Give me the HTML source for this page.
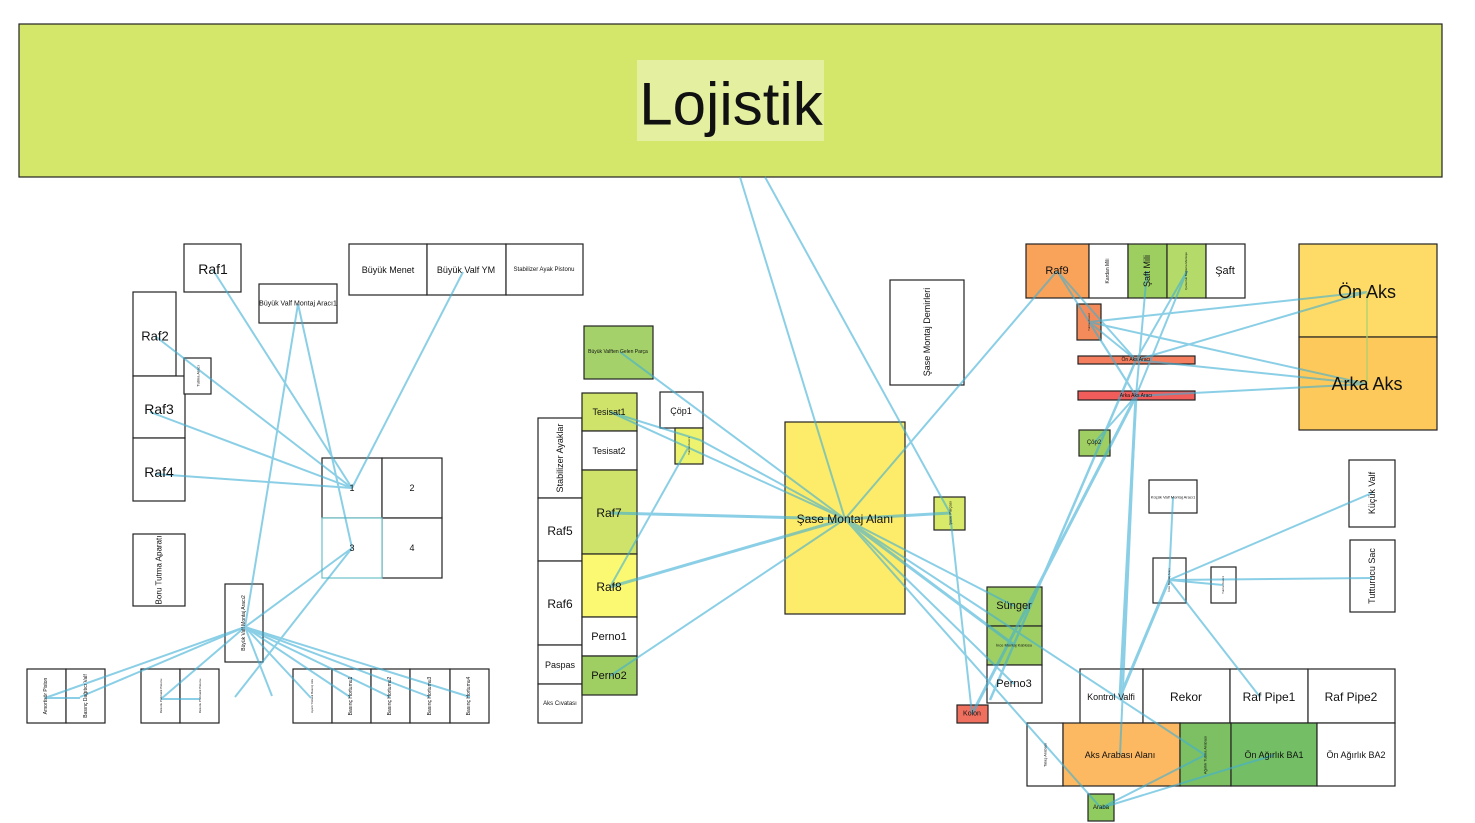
<!DOCTYPE html>
<html><head><meta charset="utf-8"><style>
html,body{margin:0;padding:0;background:#fff;}
svg{display:block;font-family:"Liberation Sans","DejaVu Sans",sans-serif;}
</style></head><body>
<svg width="1475" height="823" viewBox="0 0 1475 823" xmlns="http://www.w3.org/2000/svg">
<g stroke="#222" stroke-width="1.2">
<rect x="19" y="24" width="1423" height="153" fill="#d5e76b"/>
<rect x="637" y="60" width="187" height="81" fill="#e4efa0" stroke="none"/>
<rect x="184" y="244" width="57" height="48" fill="#fff"/>
<rect x="133" y="292" width="43" height="84" fill="#fff"/>
<rect x="133" y="376" width="52" height="62" fill="#fff"/>
<rect x="133" y="438" width="52" height="63" fill="#fff"/>
<rect x="184" y="358" width="27" height="36" fill="#fff"/>
<rect x="259" y="284" width="78" height="39" fill="#fff"/>
<rect x="349" y="244" width="78" height="51" fill="#fff"/>
<rect x="427" y="244" width="79" height="51" fill="#fff"/>
<rect x="506" y="244" width="77" height="51" fill="#fff"/>
<rect x="322" y="458" width="60" height="60" fill="#fff"/>
<rect x="382" y="458" width="60" height="60" fill="#fff"/>
<rect x="382" y="518" width="60" height="60" fill="#fff"/>
<rect x="133" y="534" width="52" height="72" fill="#fff"/>
<rect x="225" y="584" width="38" height="78" fill="#fff"/>
<rect x="27" y="669" width="39" height="54" fill="#fff"/>
<rect x="66" y="669" width="39" height="54" fill="#fff"/>
<rect x="141" y="669" width="39" height="54" fill="#fff"/>
<rect x="180" y="669" width="39" height="54" fill="#fff"/>
<rect x="293" y="669" width="39" height="54" fill="#fff"/>
<rect x="332" y="669" width="39" height="54" fill="#fff"/>
<rect x="371" y="669" width="39" height="54" fill="#fff"/>
<rect x="410" y="669" width="40" height="54" fill="#fff"/>
<rect x="450" y="669" width="39" height="54" fill="#fff"/>
<rect x="538" y="418" width="44" height="80" fill="#fff"/>
<rect x="538" y="498" width="44" height="63" fill="#fff"/>
<rect x="538" y="561" width="44" height="84" fill="#fff"/>
<rect x="538" y="645" width="44" height="39" fill="#fff"/>
<rect x="538" y="684" width="44" height="39" fill="#fff"/>
<rect x="582" y="393" width="55" height="38" fill="#cfe36a"/>
<rect x="582" y="431" width="55" height="39" fill="#fff"/>
<rect x="582" y="470" width="55" height="84" fill="#cfe36a"/>
<rect x="582" y="554" width="55" height="63" fill="#fbf872"/>
<rect x="582" y="617" width="55" height="39" fill="#fff"/>
<rect x="582" y="656" width="55" height="39" fill="#9fcf63"/>
<rect x="584" y="326" width="69" height="53" fill="#a5d16a"/>
<rect x="660" y="392" width="43" height="36" fill="#fff"/>
<rect x="675" y="428" width="28" height="36" fill="#edf36e"/>
<rect x="785" y="422" width="120" height="192" fill="#fdeb6a"/>
<rect x="890" y="280" width="74" height="105" fill="#fff"/>
<rect x="934" y="497" width="31" height="33" fill="#d9e96a"/>
<rect x="987" y="587" width="55" height="39" fill="#9fcf63"/>
<rect x="987" y="626" width="55" height="39" fill="#9fcf63"/>
<rect x="987" y="665" width="55" height="38" fill="#fff"/>
<rect x="957" y="705" width="31" height="18" fill="#f07060"/>
<rect x="1026" y="244" width="63" height="54" fill="#f9a25a"/>
<rect x="1089" y="244" width="39" height="54" fill="#fff"/>
<rect x="1128" y="244" width="39" height="54" fill="#9ccf60"/>
<rect x="1167" y="244" width="39" height="54" fill="#b4db6a"/>
<rect x="1206" y="244" width="39" height="54" fill="#fff"/>
<rect x="1077" y="304" width="24" height="36" fill="#f38c5a"/>
<rect x="1078" y="356" width="117" height="8" fill="#f47e5e"/>
<rect x="1078" y="391" width="117" height="9" fill="#f05d5a"/>
<rect x="1079" y="430" width="31" height="26" fill="#9fcf63"/>
<rect x="1299" y="244" width="138" height="93" fill="#fedb66"/>
<rect x="1299" y="337" width="138" height="93" fill="#fdc95a"/>
<rect x="1149" y="480" width="48" height="33" fill="#fff"/>
<rect x="1153" y="558" width="33" height="45" fill="#fff"/>
<rect x="1211" y="567" width="25" height="36" fill="#fff"/>
<rect x="1349" y="460" width="46" height="67" fill="#fff"/>
<rect x="1350" y="540" width="45" height="72" fill="#fff"/>
<rect x="1080" y="669" width="63" height="54" fill="#fff"/>
<rect x="1143" y="669" width="87" height="54" fill="#fff"/>
<rect x="1230" y="669" width="78" height="54" fill="#fff"/>
<rect x="1308" y="669" width="87" height="54" fill="#fff"/>
<rect x="1027" y="723" width="36" height="63" fill="#fff"/>
<rect x="1063" y="723" width="117" height="63" fill="#fdb862"/>
<rect x="1180" y="723" width="51" height="63" fill="#7cc063"/>
<rect x="1231" y="723" width="86" height="63" fill="#74bf65"/>
<rect x="1317" y="723" width="78" height="63" fill="#fff"/>
<rect x="1088" y="794" width="26" height="27" fill="#8fcb5e"/>
</g>
<rect x="322" y="518" width="60" height="60" fill="#fff" stroke="#6cc0c8" stroke-width="1.2"/>
<g stroke="#3fb0d6" stroke-width="2" fill="none" opacity="0.6">
<line x1="352" y1="488" x2="213" y2="270"/><line x1="352" y1="488" x2="155" y2="336"/>
<line x1="352" y1="488" x2="150" y2="412"/><line x1="352" y1="488" x2="155" y2="474"/>
<line x1="352" y1="488" x2="463" y2="272"/>
<line x1="245" y1="627" x2="352" y2="548"/><line x1="235" y1="697" x2="352" y2="548"/>
<line x1="245" y1="627" x2="298" y2="304"/><line x1="245" y1="627" x2="45" y2="698"/>
<line x1="245" y1="627" x2="80" y2="697"/><line x1="245" y1="627" x2="161" y2="699"/>
<line x1="245" y1="627" x2="272" y2="696"/><line x1="245" y1="627" x2="311" y2="698"/>
<line x1="245" y1="627" x2="350" y2="697"/><line x1="245" y1="627" x2="390" y2="697"/>
<line x1="245" y1="627" x2="430" y2="697"/><line x1="245" y1="627" x2="470" y2="697"/>
<line x1="298" y1="304" x2="352" y2="548"/>
<line x1="45" y1="698" x2="80" y2="698"/><line x1="161" y1="699" x2="200" y2="699"/>
<line x1="845" y1="519" x2="740" y2="177"/><line x1="765" y1="177" x2="950" y2="513"/>
<line x1="950" y1="513" x2="972" y2="714"/>
<line x1="845" y1="519" x2="610" y2="412"/><line x1="845" y1="519" x2="610" y2="513" stroke-width="3"/>
<line x1="845" y1="519" x2="610" y2="587" stroke-width="3"/><line x1="845" y1="519" x2="610" y2="676"/>
<line x1="845" y1="519" x2="620" y2="352"/><line x1="845" y1="519" x2="700" y2="440"/>
<line x1="845" y1="519" x2="950" y2="513" stroke-width="3"/><line x1="845" y1="519" x2="1057" y2="271"/>
<line x1="845" y1="519" x2="1014" y2="606"/><line x1="845" y1="519" x2="1014" y2="645" stroke-width="3"/>
<line x1="845" y1="519" x2="1014" y2="684"/><line x1="845" y1="519" x2="1205" y2="755"/>
<line x1="845" y1="519" x2="1101" y2="808"/>
<line x1="689" y1="446" x2="610" y2="587"/><line x1="700" y1="440" x2="610" y2="412"/>
<line x1="1136" y1="360" x2="1057" y2="271"/><line x1="1136" y1="396" x2="1057" y2="271"/>
<line x1="1136" y1="396" x2="1147" y2="271"/><line x1="1136" y1="360" x2="1187" y2="271"/>
<line x1="1136" y1="396" x2="1187" y2="271"/>
<line x1="1089" y1="322" x2="1136" y2="360"/><line x1="1089" y1="322" x2="1136" y2="396"/>
<line x1="1089" y1="322" x2="1367" y2="292"/><line x1="1089" y1="322" x2="1367" y2="384"/>
<line x1="1136" y1="360" x2="1367" y2="292"/><line x1="1136" y1="360" x2="1367" y2="384"/>
<line x1="1136" y1="396" x2="1367" y2="384"/>
<line x1="1136" y1="396" x2="1094" y2="443"/>
<line x1="1136" y1="396" x2="972" y2="714" stroke-width="3"/><line x1="1136" y1="360" x2="990" y2="700" stroke-width="2.5"/>
<line x1="1136" y1="396" x2="1120" y2="697" stroke-width="3"/><line x1="1136" y1="396" x2="1120" y2="755"/>
<line x1="1169" y1="580" x2="1372" y2="493"/><line x1="1169" y1="580" x2="1372" y2="578"/>
<line x1="1169" y1="580" x2="1223" y2="585"/><line x1="1169" y1="580" x2="1173" y2="497"/>
<line x1="1169" y1="580" x2="1260" y2="697"/><line x1="1169" y1="580" x2="1120" y2="697" stroke-width="3"/>
<line x1="1101" y1="808" x2="1205" y2="755"/><line x1="1101" y1="808" x2="1274" y2="755"/>
<line x1="1367" y1="292" x2="1367" y2="384" stroke="#a8d070"/>
</g>
<g fill="#111" text-anchor="middle" dominant-baseline="central">
<text x="731" y="104" font-size="60">Lojistik</text>
<text x="213" y="269" font-size="14">Raf1</text>
<text x="155" y="336" font-size="13">Raf2</text>
<text x="159" y="409" font-size="14">Raf3</text>
<text x="159" y="472" font-size="14">Raf4</text>
<text x="298" y="304" font-size="7">Büyük Valf Montaj Aracı1</text>
<text x="388" y="270" font-size="9">Büyük Menet</text>
<text x="466" y="270" font-size="9">Büyük Valf YM</text>
<text x="544" y="270" font-size="6">Stabilizer Ayak Pistonu</text>
<text x="352" y="488" font-size="9">1</text><text x="412" y="488" font-size="9">2</text>
<text x="352" y="548" font-size="9">3</text><text x="412" y="548" font-size="9">4</text>
<text x="609" y="412" font-size="9">Tesisat1</text>
<text x="609" y="451" font-size="9">Tesisat2</text>
<text x="609" y="513" font-size="12">Raf7</text>
<text x="609" y="587" font-size="12">Raf8</text>
<text x="609" y="637" font-size="11">Perno1</text>
<text x="609" y="676" font-size="11">Perno2</text>
<text x="560" y="531" font-size="12">Raf5</text>
<text x="560" y="604" font-size="12">Raf6</text>
<text x="560" y="665" font-size="9">Paspas</text>
<text x="560" y="704" font-size="6">Aks Cıvatası</text>
<text x="618" y="352" font-size="5">Büyük Valften Gelen Parça</text>
<text x="681" y="411" font-size="9">Çöp1</text>
<text x="845" y="519" font-size="12">Şase Montaj Alanı</text>
<text x="1014" y="606" font-size="11">Sünger</text>
<text x="1014" y="645" font-size="4">İnce Montaj Kablosu</text>
<text x="1014" y="684" font-size="11">Perno3</text>
<text x="972" y="714" font-size="7">Kolon</text>
<text x="1057" y="271" font-size="11">Raf9</text>
<text x="1225" y="271" font-size="11">Şaft</text>
<text x="1136" y="360" font-size="5">Ön Aks Aracı</text>
<text x="1136" y="396" font-size="5">Arka Aks Aracı</text>
<text x="1094" y="443" font-size="6">Çöp2</text>
<text x="1367" y="292" font-size="18">Ön Aks</text>
<text x="1367" y="384" font-size="18">Arka Aks</text>
<text x="1173" y="497" font-size="4">Küçük Valf Montaj Aracı1</text>
<text x="1111" y="697" font-size="9">Kontrol Valfi</text>
<text x="1186" y="697" font-size="12">Rekor</text>
<text x="1269" y="697" font-size="12">Raf Pipe1</text>
<text x="1351" y="697" font-size="12">Raf Pipe2</text>
<text x="1120" y="755" font-size="9">Aks Arabası Alanı</text>
<text x="1274" y="755" font-size="9">Ön Ağırlık BA1</text>
<text x="1356" y="755" font-size="9">Ön Ağırlık BA2</text>
<text x="1101" y="808" font-size="6">Araba</text>
</g>
<g fill="#111" text-anchor="middle" dominant-baseline="central">
<text transform="translate(198,376) rotate(-90)" font-size="4">Tutma Aracı</text>
<text transform="translate(159,570) rotate(-90)" font-size="8">Boru Tutma Aparatı</text>
<text transform="translate(244,623) rotate(-90)" font-size="5">Büyük Valf Montaj Aracı2</text>
<text transform="translate(46,696) rotate(-90)" font-size="5">Amortisör Piston</text>
<text transform="translate(86,696) rotate(-90)" font-size="5">Basınç Dağıtıcı Valf</text>
<text transform="translate(161,696) rotate(-90)" font-size="3">Rekorlu Pnömatik Pistonu</text>
<text transform="translate(200,696) rotate(-90)" font-size="3">Rekorlu Pnömatik Pistonu</text>
<text transform="translate(312,696) rotate(-90)" font-size="3">Ayarlı Yüksek Basınç Aks</text>
<text transform="translate(351,696) rotate(-90)" font-size="5">Basınç Hortumu1</text>
<text transform="translate(390,696) rotate(-90)" font-size="5">Basınç Hortumu2</text>
<text transform="translate(430,696) rotate(-90)" font-size="5">Basınç Hortumu3</text>
<text transform="translate(469,696) rotate(-90)" font-size="5">Basınç Hortumu4</text>
<text transform="translate(560,458) rotate(-90)" font-size="9">Stabilizer Ayaklar</text>
<text transform="translate(689,446) rotate(-90)" font-size="3">Tutma Aracı1</text>
<text transform="translate(927,332) rotate(-90)" font-size="9">Şase Montaj Demirleri</text>
<text transform="translate(950,513) rotate(-90)" font-size="4">Şase Parçası</text>
<text transform="translate(1108,271) rotate(-90)" font-size="5">Kardan Mili</text>
<text transform="translate(1147,271) rotate(-90)" font-size="9">Şaft Mili</text>
<text transform="translate(1186,271) rotate(-90)" font-size="3">Çamurluk Bağlama Menteşe</text>
<text transform="translate(1089,322) rotate(-90)" font-size="3">Tutma Aracı2</text>
<text transform="translate(1169,580) rotate(-90)" font-size="3">İnce Montaj Aracı</text>
<text transform="translate(1223,585) rotate(-90)" font-size="3">Tutma Aracı3</text>
<text transform="translate(1372,493) rotate(-90)" font-size="9">Küçük Valf</text>
<text transform="translate(1372,576) rotate(-90)" font-size="9">Tutturucu Sac</text>
<text transform="translate(1045,755) rotate(-90)" font-size="4">Talaş Arabası</text>
<text transform="translate(1205,755) rotate(-90)" font-size="4">Ağırlık Tutma Arabası</text>
</g>
</svg>
</body></html>
